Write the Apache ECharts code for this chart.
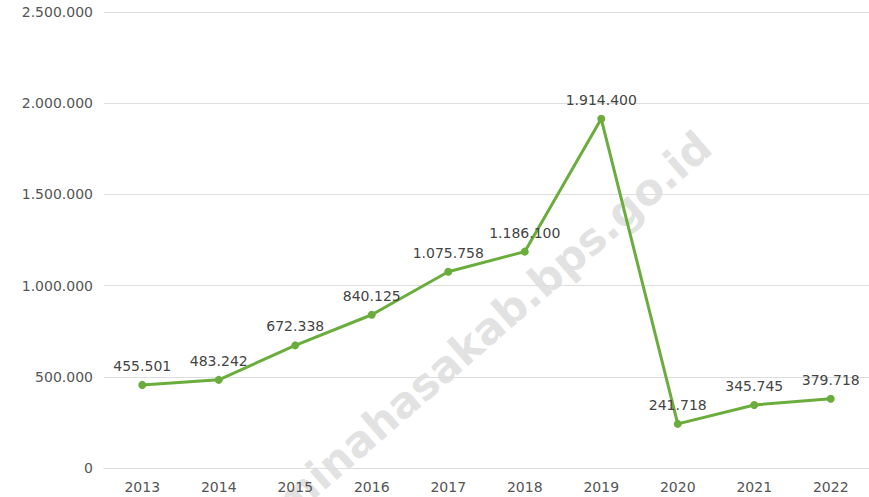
<!DOCTYPE html>
<html>
<head>
<meta charset="utf-8">
<script src="https://cdn.jsdelivr.net/npm/echarts@6/dist/echarts.min.js"></script>
<style>
  html, body { margin: 0; padding: 0; background: #fff; }
  #chart { width: 869px; height: 497px; }
</style>
</head>
<body>
<div id="chart"></div>
<script>
var years = ['2013', '2014', '2015', '2016', '2017', '2018', '2019', '2020', '2021', '2022'];
var values = [455501, 483242, 672338, 840125, 1075758, 1186100, 1914400, 241718, 345745, 379718];
var watermark = 'minahasakab.bps.go.id';

function fmt(v) {
  return String(v).replace(/\B(?=(\d{3})+(?!\d))/g, '.');
}

var chart = echarts.init(document.getElementById('chart'), null, { renderer: 'svg' });
chart.setOption({
  animation: false,
  backgroundColor: '#ffffff',
  textStyle: { fontFamily: 'DejaVu Sans' },
  grid: { left: 104, top: 12, width: 767, height: 456, containLabel: false },
  xAxis: {
    type: 'category',
    data: years,
    axisLine: { lineStyle: { color: '#dddddd' } },
    axisTick: { show: false },
    axisLabel: { color: '#555555', fontSize: 14, margin: 12 }
  },
  yAxis: {
    type: 'value',
    min: 0, max: 2500000, interval: 500000,
    axisLine: { show: false },
    axisTick: { show: false },
    splitLine: { lineStyle: { color: '#dddddd' } },
    axisLabel: { color: '#555555', fontSize: 14, margin: 11, formatter: fmt }
  },
  graphic: [{
    type: 'text',
    x: 492, y: 325,
    rotation: 41 * Math.PI / 180,
    z: 0,
    silent: true,
    style: {
      text: watermark,
      x: 0, y: 0,
      align: 'center', verticalAlign: 'middle',
      fill: 'rgba(190,190,190,0.45)',
      font: 'bold 43px "DejaVu Sans"'
    }
  }],
  series: [{
    type: 'line',
    data: values,
    z: 3,
    symbol: 'circle',
    symbolSize: 8,
    lineStyle: { color: '#6aad3d', width: 3 },
    itemStyle: { color: '#6aad3d' },
    label: {
      show: true, position: 'top', distance: 8,
      color: '#444444', fontSize: 14,
      formatter: function(p) { return fmt(p.value); }
    }
  }]
});
</script>
</body>
</html>
